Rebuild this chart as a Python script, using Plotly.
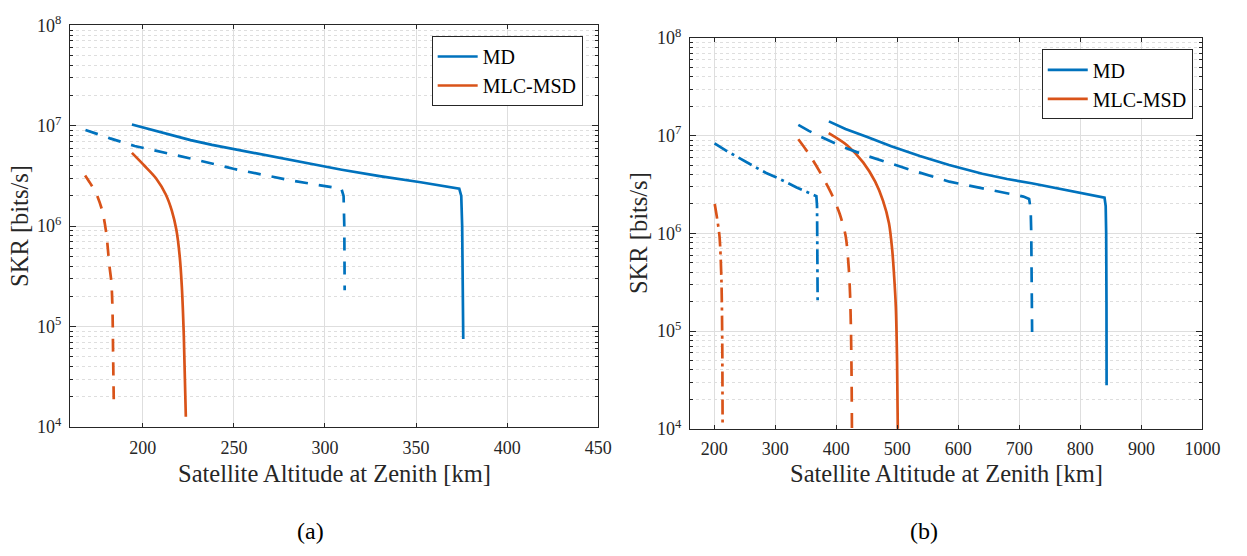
import plotly.graph_objects as go

# ---------------- data ----------------
# Panel (a)
md_a_solid_x = [194.0, 202.0, 210.0, 218.0, 226.2, 238.0, 251.5, 265.0, 280.0, 295.0, 309.2, 330.0, 352.5, 373.7, 374.8, 375.3, 375.7, 375.9]
md_a_solid_y = [1.03e7, 9.4e6, 8.6e6, 7.85e6, 7.2e6, 6.45e6, 5.8e6, 5.15e6, 4.6e6, 4.1e6, 3.65e6, 3.15e6, 2.74e6, 2.36e6, 2.0e6, 1.0e6, 3.0e5, 7.5e4]
md_a_dash_x = [168.5, 182.0, 195.5, 212.0, 228.0, 249.7, 265.0, 280.3, 293.0, 305.6, 309.0, 310.2, 310.6, 310.8]
md_a_dash_y = [9.1e6, 7.5e6, 6.3e6, 5.4e6, 4.65e6, 3.73e6, 3.27e6, 2.88e6, 2.63e6, 2.4e6, 2.36e6, 2.0e6, 1.0e6, 2.3e5]
mlc_a_solid_x = [194.0, 200.9, 207.3, 212.6, 215.9, 218.4, 220.2, 221.4, 222.5, 223.6]
mlc_a_solid_y = [5.37e6, 4.0e6, 2.99e6, 2.07e6, 1.43e6, 9.2e5, 5.1e5, 2.5e5, 8.0e4, 1.26e4]
mlc_a_dash_x = [168.3, 171.0, 174.0, 177.7, 179.9, 181.6, 182.7, 183.3, 183.7, 184.1]
mlc_a_dash_y = [3.2e6, 2.7e6, 2.2e6, 1.43e6, 8.6e5, 4.1e5, 2.8e5, 1.58e5, 4.9e4, 1.53e4]

# Panel (b)
md_b_solid_x = [387.8, 415.0, 450.8, 490.0, 536.9, 585.0, 639.3, 680.0, 720.0, 780.0, 839.6, 841.5, 842.3, 842.8, 843.0]
md_b_solid_y = [1.40e7, 1.17e7, 9.7e6, 7.8e6, 6.18e6, 5.0e6, 4.08e6, 3.6e6, 3.26e6, 2.75e6, 2.32e6, 1.9e6, 1.0e6, 2.0e5, 2.8e4]
md_b_dash_x = [337.7, 355.0, 375.4, 410.0, 450.8, 485.0, 520.0, 585.4, 650.0, 706.6, 716.0, 718.5, 719.5, 720.9]
md_b_dash_y = [1.29e7, 1.12e7, 9.7e6, 7.7e6, 6.2e6, 5.25e6, 4.5e6, 3.38e6, 2.8e6, 2.38e6, 2.25e6, 1.8e6, 1.0e6, 9.8e4]
md_b_dd_x = [200.4, 218.0, 235.4, 251.0, 267.8, 285.0, 305.4, 335.0, 367.3, 368.4, 369.0, 369.4]
md_b_dd_y = [8.36e6, 7.1e6, 6.18e6, 5.4e6, 4.74e6, 4.15e6, 3.65e6, 2.95e6, 2.4e6, 1.9e6, 1.0e6, 1.88e5]
mlc_b_solid_x = [387.5, 418.5, 444.3, 463.7, 476.6, 486.3, 491.5, 494.8, 497.5, 499.5, 500.8]
mlc_b_solid_y = [1.06e7, 7.9e6, 5.3e6, 3.38e6, 2.15e6, 1.27e6, 6.9e5, 3.6e5, 1.8e5, 5.3e4, 9.5e3]
mlc_b_dash_x = [337.7, 353.9, 373.2, 392.6, 405.6, 415.3, 420.4, 422.5, 424.0, 425.0, 425.6]
mlc_b_dash_y = [9.2e6, 6.67e6, 4.24e6, 2.5e6, 1.58e6, 9.4e5, 4.4e5, 2.4e5, 1.0e5, 3.5e4, 9.5e3]
mlc_b_dd_x = [200.7, 204.0, 208.5, 211.7, 213.0, 213.6]
mlc_b_dd_y = [2.0e6, 1.5e6, 9.4e5, 3.3e5, 8.0e4, 1.1e4]

legend_names = ["MD", "MLC-MSD"]
xticks_a = [200, 250, 300, 350, 400, 450]
xticks_b = [200, 300, 400, 500, 600, 700, 800, 900, 1000]
yticks = [1e4, 1e5, 1e6, 1e7, 1e8]
yticklabels = ["10<sup>4</sup>", "10<sup>5</sup>", "10<sup>6</sup>", "10<sup>7</sup>", "10<sup>8</sup>"]
x_title = "Satellite Altitude at Zenith [km]"
y_title = "SKR [bits/s]"
panel_labels = ["(a)", "(b)"]

# ---------------- style ----------------
BLUE = "#0072BD"
ORANGE = "#D95319"
AXC = "#262626"
GRID = "#dedede"
FONT = "Liberation Serif"
LW = 2.7
DASH_A = "13px,11px"
DASH_B = "15px,11px"
DASHDOT = "15px,5px,3px,5px"
W, H = 1247, 556

fig = go.Figure()

def add(x, y, color, dash, xa, ya, shape, name=None, legend=None):
    line = dict(color=color, width=LW, dash=dash, shape=shape)
    if shape == "spline":
        line["smoothing"] = 0.8
    fig.add_trace(go.Scatter(
        x=x, y=y, mode="lines", xaxis=xa, yaxis=ya, line=line,
        name=name if name else "", showlegend=name is not None,
        legend=legend if legend else "legend", hoverinfo="skip"))

# panel (a)
add(md_a_solid_x, md_a_solid_y, BLUE, "solid", "x", "y", "linear", legend_names[0], "legend")
add(mlc_a_solid_x, mlc_a_solid_y, ORANGE, "solid", "x", "y", "spline", legend_names[1], "legend")
add(md_a_dash_x, md_a_dash_y, BLUE, DASH_A, "x", "y", "linear")
add(mlc_a_dash_x, mlc_a_dash_y, ORANGE, DASH_A, "x", "y", "spline")
# panel (b)
add(md_b_solid_x, md_b_solid_y, BLUE, "solid", "x2", "y2", "linear", legend_names[0], "legend2")
add(mlc_b_solid_x, mlc_b_solid_y, ORANGE, "solid", "x2", "y2", "spline", legend_names[1], "legend2")
add(md_b_dash_x, md_b_dash_y, BLUE, DASH_B, "x2", "y2", "linear")
add(mlc_b_dash_x, mlc_b_dash_y, ORANGE, DASH_B, "x2", "y2", "spline")
add(md_b_dd_x, md_b_dd_y, BLUE, DASHDOT, "x2", "y2", "linear")
add(mlc_b_dd_x, mlc_b_dd_y, ORANGE, DASHDOT, "x2", "y2", "spline")

minor_vals = [m * 10 ** e for e in range(4, 8) for m in range(2, 10)]

def xaxis(rng, ticks, dom, anchor):
    return dict(type="linear", range=rng, tickvals=ticks, ticktext=[str(t) for t in ticks],
                domain=dom, anchor=anchor, showgrid=True, gridcolor=GRID, gridwidth=1,
                zeroline=False, showline=True, linecolor=AXC, linewidth=1, mirror="ticks",
                ticks="inside", ticklen=4, tickcolor=AXC, tickwidth=1,
                tickfont=dict(family=FONT, size=18, color=AXC), ticklabelstandoff=4)

def yaxis(dom, anchor):
    return dict(type="log", range=[4, 8], tickvals=yticks, ticktext=yticklabels,
                domain=dom, anchor=anchor, showgrid=True, gridcolor=GRID, gridwidth=1,
                zeroline=False, showline=True, linecolor=AXC, linewidth=1, mirror="ticks",
                ticks="inside", ticklen=6, tickcolor=AXC, tickwidth=1,
                tickfont=dict(family=FONT, size=18, color=AXC), ticklabelstandoff=4,
                minor=dict(tickvals=minor_vals, ticks="inside", ticklen=3, tickcolor=AXC,
                           showgrid=True, gridcolor=GRID, griddash="dot", gridwidth=1))

# pixel geometry of the two axes boxes
axA = (71, 607, 14, 432)
axB = (700, 1220, 27, 434)

def dom_x(a):
    return [a[0] / W, a[1] / W]

def dom_y(a):
    return [1 - a[3] / H, 1 - a[2] / H]

fig.update_layout(
    width=W, height=H, margin=dict(l=0, r=0, t=0, b=0),
    paper_bgcolor="white", plot_bgcolor="white",
    font=dict(family=FONT, color=AXC),
    xaxis=xaxis([160, 450], xticks_a, dom_x(axA), "y"),
    yaxis=yaxis(dom_y(axA), "x"),
    xaxis2=xaxis([160, 1000], xticks_b, dom_x(axB), "y2"),
    yaxis2=yaxis(dom_y(axB), "x2"),
    legend=dict(x=438 / W, y=1 - 25 / H, xanchor="left", yanchor="top",
                bgcolor="white", bordercolor=AXC, borderwidth=1, itemwidth=40,
                font=dict(family=FONT, size=20, color="black"), tracegroupgap=0),
    legend2=dict(x=1057 / W, y=1 - 39 / H, xanchor="left", yanchor="top",
                 bgcolor="white", bordercolor=AXC, borderwidth=1, itemwidth=40,
                 font=dict(family=FONT, size=20, color="black"), tracegroupgap=0),
)

ann = []
for a, lab, labx in ((axA, panel_labels[0], 315), (axB, panel_labels[1], 938)):
    cx = (a[0] + a[1]) / 2
    cy = (a[2] + a[3]) / 2
    ann.append(dict(text=x_title, x=cx / W, y=1 - 481 / H, xref="paper", yref="paper",
                    showarrow=False, font=dict(family=FONT, size=24.5, color=AXC),
                    xanchor="center", yanchor="middle"))
    ann.append(dict(text=y_title, x=(a[0] - 52) / W, y=1 - cy / H, xref="paper", yref="paper",
                    showarrow=False, textangle=-90, font=dict(family=FONT, size=24.5, color=AXC),
                    xanchor="center", yanchor="middle"))
    ann.append(dict(text=lab, x=labx / W, y=1 - 540 / H, xref="paper", yref="paper",
                    showarrow=False, font=dict(family=FONT, size=24, color="black"),
                    xanchor="center", yanchor="middle"))
fig.update_layout(annotations=ann)

fig.write_html("out.html")
